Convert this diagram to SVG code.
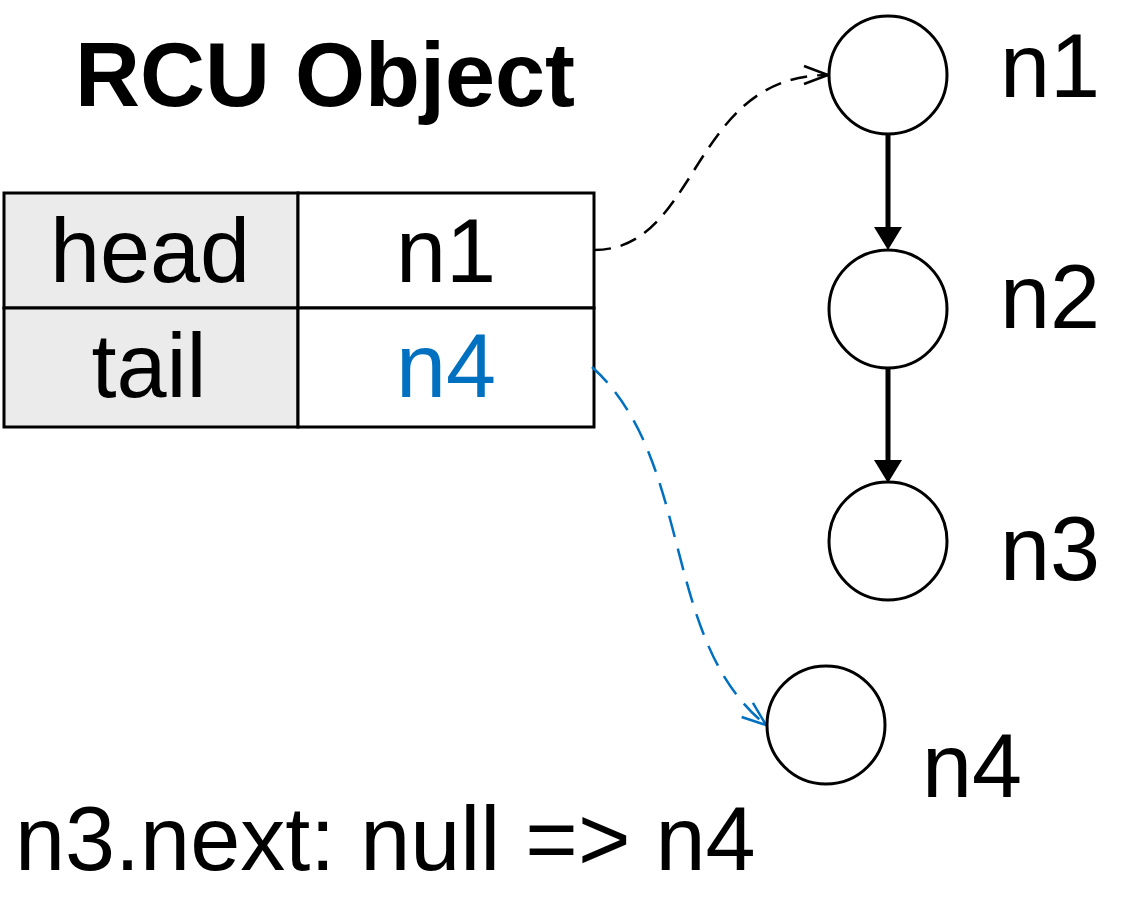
<svg xmlns="http://www.w3.org/2000/svg" width="1145" height="900" viewBox="0 0 1145 900">
<style>
text{font-family:"Liberation Sans",Arial,sans-serif;font-size:90px;fill:#000}
.title{font-weight:bold}
.mid{text-anchor:middle}
.node{fill:#fff;stroke:#000;stroke-width:3}
.cell{stroke:#000;stroke-width:3}
.solid{stroke:#000;stroke-width:5;fill:none}
.dash{stroke:#000;stroke-width:2.5;fill:none;stroke-dasharray:17 10}
.bdash{stroke:#0070c0;stroke-width:2.5;fill:none;stroke-dasharray:22 12}
.blue{fill:#0070c0}
</style>
<defs>
<marker id="fa" markerUnits="userSpaceOnUse" viewBox="0 0 30 30" markerWidth="30" markerHeight="30" refX="1" refY="15" orient="auto" overflow="visible">
<path d="M0,1 L23,15 L0,29 z" fill="#000"/>
</marker>
<marker id="oa" markerUnits="userSpaceOnUse" viewBox="0 0 30 30" markerWidth="30" markerHeight="30" refX="25" refY="15" orient="auto" overflow="visible">
<path d="M1,6 L25,15 L1,24" fill="none" stroke="#000" stroke-width="2.5"/>
</marker>
<marker id="ob" markerUnits="userSpaceOnUse" viewBox="0 0 30 30" markerWidth="30" markerHeight="30" refX="25" refY="15" orient="auto" overflow="visible">
<path d="M1,6 L25,15 L1,24" fill="none" stroke="#0070c0" stroke-width="2.5"/>
</marker>
</defs>
<text id="title" class="title" x="75" y="106">RCU Object</text>
<g id="table">
<rect class="cell" x="4" y="193" width="294" height="115" fill="#ebebeb"/>
<rect class="cell" x="4" y="308" width="294" height="119" fill="#ebebeb"/>
<rect class="cell" x="298" y="193" width="296" height="115" fill="#fff"/>
<rect class="cell" x="298" y="308" width="296" height="119" fill="#fff"/>
<text class="mid" x="150" y="282">head</text>
<text class="mid" x="149" y="397">tail</text>
<text class="mid" x="446" y="282">n1</text>
<text class="mid blue" x="446" y="397">n4</text>
</g>
<g id="connectors">
<line class="solid" x1="888" y1="134" x2="888" y2="228" marker-end="url(#fa)"/>
<line class="solid" x1="888" y1="368" x2="888" y2="461" marker-end="url(#fa)"/>
<path class="dash" d="M594,250 C700,250 690,75 828,75" marker-end="url(#oa)"/>
<path class="bdash" d="M592,367 C695,460 660,640 766,725" marker-end="url(#ob)"/>
</g>
<g id="n1"><circle class="node" cx="888" cy="75" r="59"/><text x="1000" y="97">n1</text></g>
<g id="n2"><circle class="node" cx="888" cy="309" r="59"/><text x="1000" y="328">n2</text></g>
<g id="n3"><circle class="node" cx="888" cy="541" r="59"/><text x="1000" y="580">n3</text></g>
<g id="n4"><circle class="node" cx="826" cy="725" r="59"/><text x="922" y="797">n4</text></g>
<text id="caption" x="15" y="870">n3.next: null =&gt; n4</text>
</svg>
